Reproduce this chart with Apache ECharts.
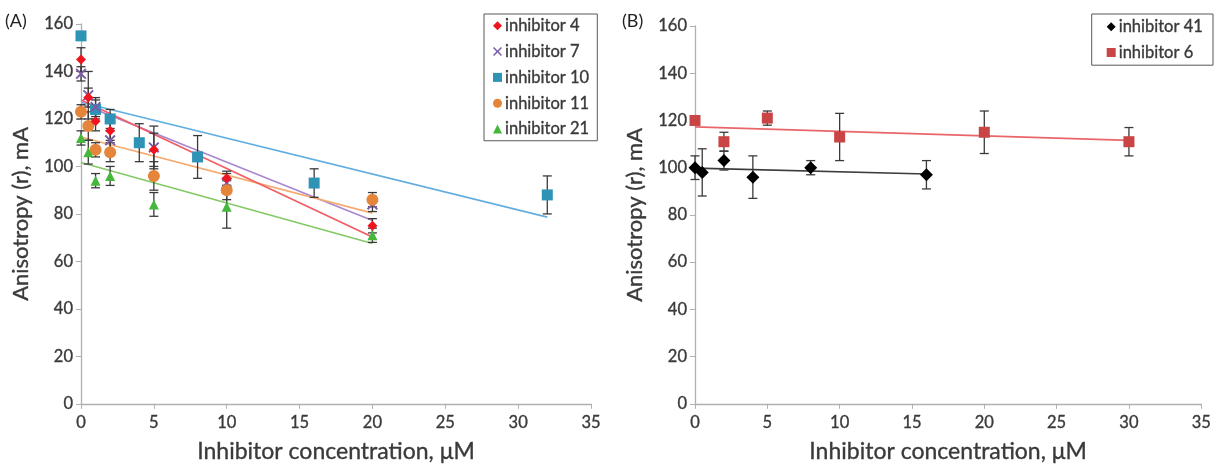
<!DOCTYPE html>
<html>
<head>
<meta charset="utf-8">
<script src="https://cdn.jsdelivr.net/npm/echarts@6/dist/echarts.min.js"></script>
<style>
    html, body { margin: 0; padding: 0; background: #fff; }
    #chartA { position: absolute; left: 0; top: 0; width: 607px; height: 468px; }
    #chartB { position: absolute; left: 607px; top: 0; width: 607px; height: 468px; }
</style>
</head>
<body>
<div id="chartA"></div>
<div id="chartB"></div>
<script>
// (A) 数据
var concA = [0, 0.5, 1, 2, 5, 10, 20];       // inhibitor 4, 7, 11, 21 的浓度
var conc10 = [0, 1, 2, 4, 8, 16, 32];        // inhibitor 10 的浓度
var inh4 = [145, 129, 119, 115, 107, 95, 75];
var inh4Err = [5, 4, 4, 4, 7, 3, 3];
var inh7 = [139, 130, 125, 111, 108, 93, 84];
var inh7Err = [3, 10, 4, 4, 9, 4, 3];
var inh10 = [155, 124, 120, 110, 104, 93, 88];
var inh10Err = [0, 4, 4, 8, 9, 6, 8];
var inh11 = [123, 117, 107, 106, 96, 90, 86];
var inh11Err = [3, 6, 3, 4, 6, 4, 3];
var inh21 = [112, 106, 94, 96, 84, 83, 71];
var inh21Err = [3, 5, 3, 4, 5, 9, 3];

// (B) 数据
var conc41 = [0, 0.5, 2, 4, 8, 16];
var inh41 = [100, 98, 103, 96, 100, 97];
var inh41Err = [5, 10, 4, 9, 3, 6];
var conc6 = [0, 2, 5, 10, 20, 30];
var inh6 = [120, 111, 121, 113, 115, 111];
var inh6Err = [1, 4, 3, 10, 9, 6];

// 坐标轴刻度
var xTicks = [0, 5, 10, 15, 20, 25, 30, 35];
var yTicks = [0, 20, 40, 60, 80, 100, 120, 140, 160];

var FONT = 'Lato';
var TEXT_COLOR = '#3a3a3a';
var AXIS_COLOR = '#b0b0b0';
var X_SYMBOL = 'path://M0,1.2 L1.2,0 L5,3.8 L8.8,0 L10,1.2 L6.2,5 L10,8.8 L8.8,10 L5,6.2 L1.2,10 L0,8.8 L3.8,5 Z';

// 文字加粗一点 (描边)
function textStyle(size, extra) {
    var s = {
        fontFamily: FONT,
        fontSize: size,
        color: TEXT_COLOR,
        textBorderColor: TEXT_COLOR,
        textBorderWidth: 0.35
    };
    for (var k in extra) { s[k] = extra[k]; }
    return s;
}

function zip(xs, ys, es) {
    var out = [];
    for (var i = 0; i < xs.length; i++) {
        out.push(es ? [xs[i], ys[i], es[i]] : [xs[i], ys[i]]);
    }
    return out;
}

// 线性趋势线 (最小二乘)
function trend(xs, ys) {
    var n = xs.length, mx = 0, my = 0;
    for (var i = 0; i < n; i++) { mx += xs[i]; my += ys[i]; }
    mx /= n; my /= n;
    var sxy = 0, sxx = 0;
    for (var j = 0; j < n; j++) {
        sxy += (xs[j] - mx) * (ys[j] - my);
        sxx += (xs[j] - mx) * (xs[j] - mx);
    }
    var b = sxy / sxx, a = my - b * mx;
    var x0 = Math.min.apply(null, xs), x1 = Math.max.apply(null, xs);
    return [[x0, a + b * x0], [x1, a + b * x1]];
}

// 误差线
function errorItem(params, api) {
    var x = api.value(0), y = api.value(1), e = api.value(2);
    var top = api.coord([x, y + e]);
    var bot = api.coord([x, y - e]);
    var w = 4.5;
    var st = { stroke: '#3a3a3a', lineWidth: 1.3 };
    return {
        type: 'group',
        children: [
            { type: 'line', shape: { x1: top[0], y1: top[1], x2: bot[0], y2: bot[1] }, style: st },
            { type: 'line', shape: { x1: top[0] - w, y1: top[1], x2: top[0] + w, y2: top[1] }, style: st },
            { type: 'line', shape: { x1: bot[0] - w, y1: bot[1], x2: bot[0] + w, y2: bot[1] }, style: st }
        ]
    };
}

function addInhibitor(list, name, xs, ys, es, symbol, size, color, lineColor) {
    list.push({
        name: 'trend ' + name,
        type: 'line',
        data: trend(xs, ys),
        showSymbol: false,
        silent: true,
        z: 1,
        lineStyle: { color: lineColor, width: 1.7 }
    });
    list.push({
        name: 'err ' + name,
        type: 'custom',
        renderItem: errorItem,
        encode: { x: 0, y: 1 },
        data: zip(xs, ys, es),
        z: 2
    });
    list.push({
        name: name,
        type: 'scatter',
        symbol: symbol,
        symbolSize: size,
        data: zip(xs, ys),
        z: 3,
        itemStyle: { color: color, opacity: 1 }
    });
}

function baseOption(grid, yNameGap) {
    return {
        backgroundColor: '#fff',
        animation: false,
        grid: grid,
        xAxis: {
            type: 'value',
            min: xTicks[0],
            max: xTicks[xTicks.length - 1],
            interval: 5,
            name: 'Inhibitor concentration, \u03bcM',
            nameLocation: 'middle',
            nameGap: 36,
            nameTextStyle: textStyle(23),
            splitLine: { show: false },
            axisLine: { lineStyle: { color: AXIS_COLOR, width: 1.3 } },
            axisTick: { length: 5, lineStyle: { color: AXIS_COLOR } },
            axisLabel: textStyle(16.5, { margin: 10 })
        },
        yAxis: {
            type: 'value',
            min: yTicks[0],
            max: yTicks[yTicks.length - 1],
            interval: 20,
            name: 'Anisotropy (r), mA',
            nameLocation: 'middle',
            nameGap: yNameGap,
            nameTextStyle: textStyle(22),
            splitLine: { show: false },
            axisLine: { show: true, lineStyle: { color: AXIS_COLOR, width: 1.3 } },
            axisTick: { show: true, length: 5, lineStyle: { color: AXIS_COLOR } },
            axisLabel: textStyle(16.5, { margin: 8 })
        }
    };
}

function legendBox(pos, padding, names) {
    var lg = {
        orient: 'vertical',
        top: 14,
        data: names,
        itemWidth: 9,
        itemHeight: 9,
        itemGap: 8.5,
        padding: padding,
        borderColor: '#595959',
        borderWidth: 1,
        textStyle: textStyle(16.5, { padding: [0, 0, 0, -2] })
    };
    for (var k in pos) { lg[k] = pos[k]; }
    return lg;
}

// 图 (A)
function chartARender() {
    var chart = echarts.init(document.getElementById('chartA'));
    var option = baseOption({ left: 81, right: 16, top: 24, bottom: 63 }, 49);
    var series = [];
    addInhibitor(series, 'inhibitor 10', conc10, inh10, inh10Err, 'rect', 11, '#2f93b5', '#63aee0');
    addInhibitor(series, 'inhibitor 7', concA, inh7, inh7Err, X_SYMBOL, 11, '#7a5ca6', '#a987cf');
    addInhibitor(series, 'inhibitor 11', concA, inh11, inh11Err, 'circle', 12, '#e4853a', '#f5aa70');
    addInhibitor(series, 'inhibitor 21', concA, inh21, inh21Err, 'triangle', 10, '#44b83a', '#84c966');
    addInhibitor(series, 'inhibitor 4', concA, inh4, inh4Err, 'diamond', 10, '#f0141e', '#f25c62');
    option.series = series;
    option.legend = legendBox({ left: 484 }, [3, 8, 3, 9], ['inhibitor 4', 'inhibitor 7', 'inhibitor 10', 'inhibitor 11', 'inhibitor 21']);
    option.graphic = [{
        type: 'text', left: 5, top: 12,
        style: { text: '(A)', fontFamily: FONT, fontSize: 18, fill: '#222' }
    }];
    chart.setOption(option);
}

// 图 (B)
function chartBRender() {
    var chart = echarts.init(document.getElementById('chartB'));
    var option = baseOption({ left: 88, right: 12, top: 26, bottom: 62 }, 49);
    var series = [];
    addInhibitor(series, 'inhibitor 41', conc41, inh41, inh41Err, 'diamond', 13, '#000000', '#3c3c3c');
    addInhibitor(series, 'inhibitor 6', conc6, inh6, inh6Err, 'rect', 11, '#c94444', '#e8666a');
    option.series = series;
    option.legend = legendBox({ right: 1 }, [4, 10, 4, 15], ['inhibitor 41', 'inhibitor 6']);
    option.graphic = [{
        type: 'text', left: 15, top: 12,
        style: { text: '(B)', fontFamily: FONT, fontSize: 18, fill: '#222' }
    }];
    chart.setOption(option);
}

chartARender();
chartBRender();
</script>
</body>
</html>
